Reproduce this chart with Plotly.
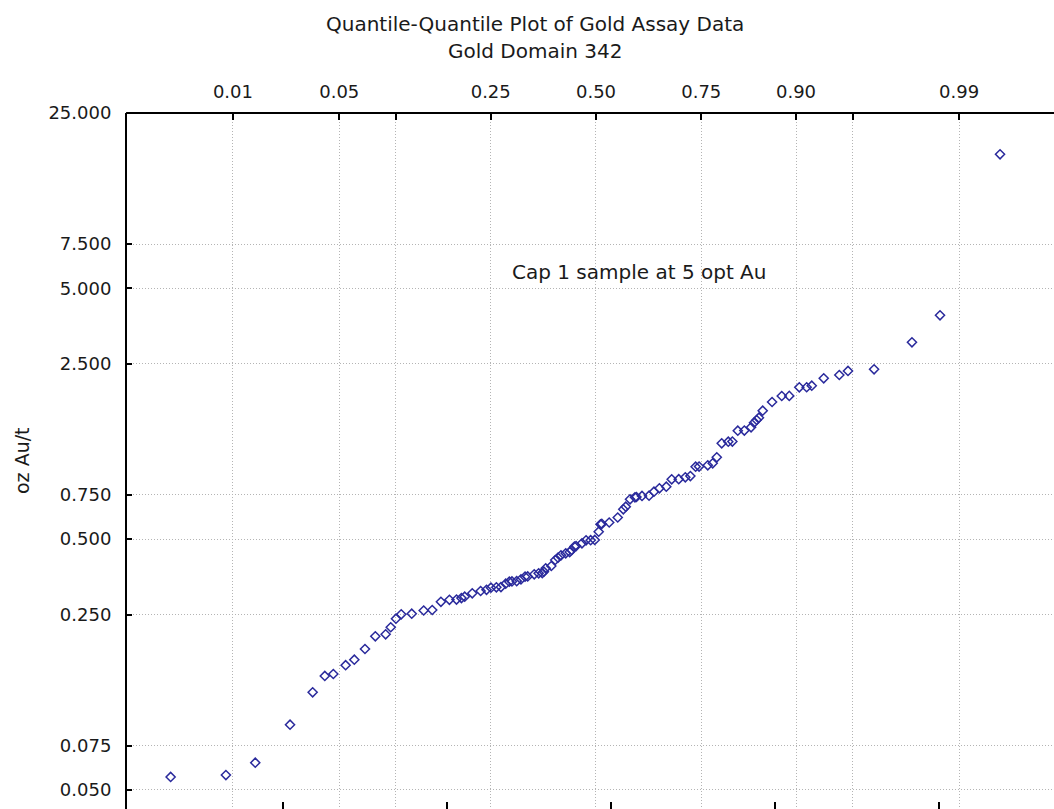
import plotly.graph_objects as go

# Theoretical quantiles (bottom axis units) and observed assay values (oz Au/t)
theoretical_q = [-2.685, -2.348, -2.169, -1.957, -1.819, -1.745, -1.693, -1.618, -1.565, -1.500,
                 -1.437, -1.374, -1.343, -1.311, -1.279, -1.215, -1.142, -1.090, -1.037, -0.985,
                 -0.942, -0.912, -0.892, -0.846, -0.795, -0.759, -0.732, -0.699, -0.671, -0.642,
                 -0.620, -0.604, -0.575, -0.549, -0.524, -0.508, -0.468, -0.441, -0.419, -0.409,
                 -0.398, -0.364, -0.340, -0.323, -0.305, -0.276, -0.252, -0.240, -0.223, -0.213,
                 -0.177, -0.152, -0.124, -0.099, -0.075, -0.064, -0.056, -0.011, 0.041, 0.075,
                 0.090, 0.116, 0.146, 0.155, 0.189, 0.232, 0.262, 0.295, 0.337, 0.370,
                 0.413, 0.453, 0.484, 0.516, 0.537, 0.590, 0.620, 0.645, 0.675, 0.715,
                 0.740, 0.773, 0.813, 0.854, 0.872, 0.888, 0.902, 0.925, 0.982, 1.041,
                 1.087, 1.148, 1.193, 1.224, 1.297, 1.392, 1.445, 1.604, 1.835, 2.006,
                 2.372]

au_opt = [0.0563, 0.0573, 0.0642, 0.0910, 0.1225, 0.1423, 0.1449, 0.1571, 0.1652, 0.1823,
          0.2048, 0.2087, 0.2226, 0.2407, 0.2506, 0.2520, 0.2596, 0.2608, 0.2811, 0.2863,
          0.2870, 0.2911, 0.2946, 0.3039, 0.3105, 0.3139, 0.3200, 0.3212, 0.3220, 0.3320,
          0.3382, 0.3390, 0.3400, 0.3457, 0.3540, 0.3550, 0.3619, 0.3653, 0.3660, 0.3707,
          0.3824, 0.3906, 0.4127, 0.4215, 0.4308, 0.4388, 0.4441, 0.4523, 0.4670, 0.4690,
          0.4810, 0.4944, 0.4950, 0.4960, 0.5352, 0.5727, 0.5750, 0.5823, 0.6097, 0.6574,
          0.6732, 0.7204, 0.7338, 0.7360, 0.7430, 0.7447, 0.7725, 0.7971, 0.8090, 0.8660,
          0.8670, 0.8819, 0.8923, 0.9719, 0.9730, 0.9845, 1.0028, 1.0596, 1.2047, 1.2225,
          1.2240, 1.3526, 1.3540, 1.3955, 1.4559, 1.4922, 1.5241, 1.6251, 1.7607, 1.8603,
          1.8620, 2.0148, 2.0160, 2.0448, 2.1887, 2.2558, 2.3405, 2.3774, 3.0451, 3.9030,
          17.108]

# Probability scale on the top axis (standard normal quantiles of each probability)
prob_labels = ["0.01", "0.05", "", "0.25", "0.50", "0.75", "0.90", "", "0.99"]
prob_z = [-2.3263, -1.6449, -1.2816, -0.6745, 0.0, 0.6745, 1.2816, 1.6449, 2.3263]

# Fitted distribution location / scale linking probabilities to the bottom axis
FIT_LOC = -0.0915
FIT_SCALE = 0.9516

bottom_ticks = [-2, -1, 0, 1, 2]
y_ticks = [0.05, 0.075, 0.25, 0.5, 0.75, 2.5, 5.0, 7.5, 25.0]
y_ticktext = [f"{v:.3f}" for v in y_ticks]

top_pos = [FIT_LOC + FIT_SCALE * z for z in prob_z]

FONT = "DejaVu Sans"
TXT = "#1a1a1a"
GRID = "#b4b4b4"
MARK = "#2a2a9c"
X_RANGE = [-2.951, 2.701]

fig = go.Figure()
fig.add_trace(go.Scatter(
    x=theoretical_q, y=au_opt, mode="markers",
    marker=dict(symbol="diamond-open", size=7, color=MARK, line=dict(width=1.5, color=MARK)),
    showlegend=False, hoverinfo="skip",
))
# empty trace so the top probability axis is laid out
fig.add_trace(go.Scatter(x=[None], y=[None], xaxis="x2", mode="markers",
                         showlegend=False, hoverinfo="skip"))

fig.update_layout(
    width=1054, height=809,
    margin=dict(l=127, r=0, t=113, b=0),
    paper_bgcolor="white", plot_bgcolor="white",
    font=dict(family=FONT, color=TXT),
    xaxis=dict(
        range=X_RANGE, tickvals=bottom_ticks, showticklabels=False,
        ticks="inside", ticklen=7, tickwidth=1.5, tickcolor="black",
        showgrid=False, zeroline=False, showline=False,
    ),
    xaxis2=dict(
        overlaying="x", side="top", anchor="y", range=X_RANGE,
        tickvals=top_pos, ticktext=prob_labels,
        ticks="inside", ticklen=7, tickwidth=1.5, tickcolor="black",
        tickfont=dict(family=FONT, size=18, color=TXT),
        ticklabelstandoff=10,
        showgrid=True, gridcolor=GRID, griddash="1px,2px", gridwidth=1,
        zeroline=False, showline=False,
    ),
    yaxis=dict(
        type="log", range=[-1.37718, 1.39794],
        tickvals=y_ticks, ticktext=y_ticktext,
        ticks="inside", ticklen=5, tickwidth=1.5, tickcolor="black",
        tickfont=dict(family=FONT, size=18, color=TXT),
        ticklabelstandoff=10,
        showgrid=True, gridcolor=GRID, griddash="1px,2px", gridwidth=1,
        zeroline=False, showline=True, linecolor="black", linewidth=2,
    ),
    shapes=[
        # top frame edge
        dict(type="line", xref="paper", yref="paper", x0=-0.001, x1=1.0, y0=1.0, y1=1.0,
             line=dict(color="black", width=2), layer="above"),
    ],
    annotations=[
        dict(text="Quantile-Quantile Plot of Gold Assay Data", xref="paper", yref="paper",
             x=(535 - 127) / 927, y=(809 - 23.5) / 696, xanchor="center", yanchor="middle",
             showarrow=False, font=dict(family=FONT, size=20, color=TXT)),
        dict(text="Gold Domain 342", xref="paper", yref="paper",
             x=(535 - 127) / 927, y=(809 - 51) / 696, xanchor="center", yanchor="middle",
             showarrow=False, font=dict(family=FONT, size=20, color=TXT)),
        dict(text="oz Au/t", textangle=-90, xref="paper", yref="paper",
             x=(22 - 127) / 927, y=0.5, xanchor="center", yanchor="middle",
             showarrow=False, font=dict(family=FONT, size=19, color=TXT)),
        dict(text="Cap 1 sample at 5 opt Au", xref="x", yref="y",
             x=0.171, y=0.765, xanchor="center", yanchor="middle",
             showarrow=False, font=dict(family=FONT, size=20, color=TXT)),
    ],
)

fig.write_html("out.html", config={"displayModeBar": False})
